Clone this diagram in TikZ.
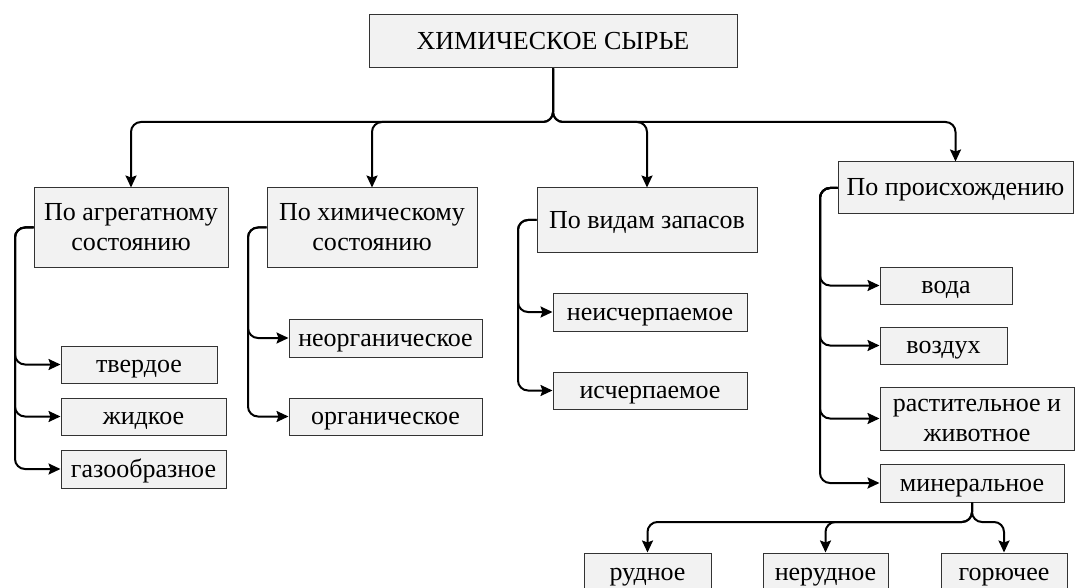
\documentclass[tikz,border=0pt]{standalone}
\usepackage{fontspec}
\setmainfont{Liberation Serif}
\usetikzlibrary{arrows.meta}

\begin{document}
\begin{tikzpicture}[x=0.5pt,y=-0.5pt,
	box/.style={draw=black!80,fill=gray!10,line width=0.5pt,inner sep=0pt,align=center,text height=10pt,text depth=2pt,font=\fontsize{13}{15}\selectfont},
	twoline/.style={text height=25pt,text depth=2pt},
	line/.style={line width=1pt,rounded corners=5pt,-{Stealth[length=6pt,width=5.5pt,inset=1pt]}}]
			\clip (0,0) rectangle (1075,588);
			\node[box,minimum width=184pt,minimum height=26.5pt] (top) at (553,41.5) {ХИМИЧЕСКОЕ СЫРЬЕ};
			
			\node[box,twoline,minimum width=97pt,minimum height=39.5pt] (agr) at (131,227.5) {По агрегатному\\состоянию};
			\node[box,twoline,minimum width=105pt,minimum height=39.5pt] (him) at (372,227.5) {По химическому\\состоянию};
			\node[box,minimum width=110pt,minimum height=32pt] (vid) at (647,220) {По видам запасов};
			\node[box,minimum width=117.5pt,minimum height=26pt] (pro) at (955.5,188) {По происхождению};
			
			\node[box,minimum width=78pt,minimum height=18.5pt] (tverd) at (139,364.5) {твердое};
			\node[box,minimum width=82.5pt,minimum height=18.5pt] (zhid) at (143.5,416.5) {жидкое};
			\node[box,minimum width=82.5pt,minimum height=19pt] (gaz) at (143.5,469) {газообразное};
			
			\node[box,minimum width=96.5pt,minimum height=19pt] (neorg) at (385.5,338) {неорганическое};
			\node[box,minimum width=96.5pt,minimum height=18.5pt] (org) at (385.5,416.5) {органическое};
			
			\node[box,minimum width=97pt,minimum height=19pt] (neisch) at (650,312) {неисчерпаемое};
			\node[box,minimum width=97pt,minimum height=18.5pt] (isch) at (650,390.5) {исчерпаемое};
			
			\node[box,minimum width=66pt,minimum height=18.5pt] (voda) at (946,285.5) {вода};
			\node[box,minimum width=63.5pt,minimum height=18.5pt] (vozd) at (943.5,345.5) {воздух};
			\node[box,twoline,minimum width=97pt,minimum height=31.5pt] (rast) at (977,418.5) {растительное и\\животное};
			\node[box,minimum width=92pt,minimum height=19pt] (miner) at (972,483) {минеральное};
			
			\node[box,minimum width=63.5pt,minimum height=19pt] (rud) at (647.5,572) {рудное};
			\node[box,minimum width=62.5pt,minimum height=19pt] (nerud) at (825.5,572) {нерудное};
			\node[box,minimum width=63pt,minimum height=19pt] (gor) at (1004,572) {горючее};
			
			% branches from the top box
			\coordinate (bus) at (553,122);
			\foreach \n in {agr,him,vid,pro}
				\draw[line] (top.south) |- (\n.north |- bus) -- (\n.north);
			
			% side lines
			\coordinate (agrx) at (15,0);
			\coordinate (himx) at (248,0);
			\coordinate (vidx) at (518,0);
			\coordinate (prox) at (820,0);
			\foreach \n in {tverd,zhid,gaz}
				\draw[line] (agr.west) -| (agrx |- \n) -- (\n.west);
			\foreach \n in {neorg,org}
				\draw[line] (him.west) -| (himx |- \n) -- (\n.west);
			\foreach \n in {neisch,isch}
				\draw[line] (vid.west) -| (vidx |- \n) -- (\n.west);
			\foreach \n in {voda,vozd,rast,miner}
				\draw[line] (pro.west) -| (prox |- \n) -- (\n.west);
			
			% mineral kinds
			\coordinate (bus2) at (972,522);
			\foreach \n in {rud,nerud,gor}
				\draw[line] (miner.south) |- (\n.north |- bus2) -- (\n.north);
		\end{tikzpicture}
\end{document}
